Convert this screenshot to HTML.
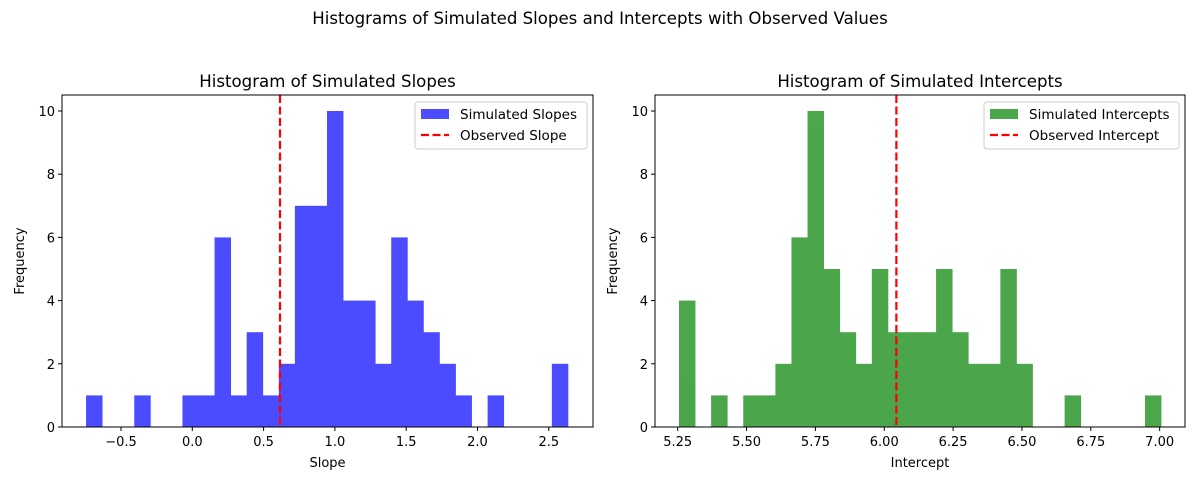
<!DOCTYPE html>
<html><head><meta charset="utf-8"><style>
body{margin:0;background:#fff}
svg{display:block;font-family:"DejaVu Sans","Liberation Sans",sans-serif}
</style></head><body>
<svg id="c" width="1200" height="500" viewBox="0 0 1200 500">
<rect width="1200" height="500" fill="#fff"/>
<text x="600" y="24" font-size="16.6" text-anchor="middle">Histograms of Simulated Slopes and Intercepts with Observed Values</text>
</svg>
<script>
const slopeCounts=[1,0,0,1,0,0,1,1,6,1,3,1,2,7,7,10,4,4,2,6,4,3,2,1,0,1,0,0,0,2];
const slopeMin=-0.745, slopeMax=2.634, observedSlope=0.615;
const slopeTicks=[-0.5,0.0,0.5,1.0,1.5,2.0,2.5];
const slopeTickLabels=["\u22120.5","0.0","0.5","1.0","1.5","2.0","2.5"];
const interceptCounts=[4,0,1,0,1,1,2,6,10,5,3,2,5,3,3,3,5,3,2,2,5,2,0,0,1,0,0,0,0,1];
const interceptMin=5.2547, interceptMax=7.005, observedIntercept=6.044;
const interceptTicks=[5.25,5.5,5.75,6.0,6.25,6.5,6.75,7.0];
const interceptTickLabels=["5.25","5.50","5.75","6.00","6.25","6.50","6.75","7.00"];
const yTicks=[0,2,4,6,8,10];

const svg=document.getElementById('c');
const NS='http://www.w3.org/2000/svg';
function el(tag,attrs,parent,text){const e=document.createElementNS(NS,tag);for(const k in attrs)e.setAttribute(k,attrs[k]);if(text!==undefined)e.textContent=text;(parent||svg).appendChild(e);return e;}

function panel(o){
  const g=el('g',{});
  
  
  const L=o.left,R=o.right,T=95,B=427;
  const xs=v=>o.x0px+(v-o.x0val)*o.pxPer;
  const ys=v=>B-v*31.6;
  const w=(o.max-o.min)/o.counts.length;
  const bars=el('g',{opacity:0.7},g);
  
  
  o.counts.forEach((c,i)=>{
    if(c<=0)return;
    const x1=xs(o.min+i*w),x2=xs(o.min+(i+1)*w);
    const r=el('rect',{x:x1,y:ys(c),width:x2-x1+0.4,height:B-ys(c),fill:o.color},bars);
    
    
  });
  const ln=el('line',{x1:xs(o.obs),x2:xs(o.obs),y1:T,y2:B,stroke:'#f00','stroke-width':2.2,'stroke-dasharray':'8,3.5'},g);
  
  
  el('rect',{x:L,y:T,width:R-L,height:B-T,fill:'none',stroke:'#000','stroke-width':1},g);
  o.ticks.forEach((t,i)=>{
    const x=xs(t);
    el('line',{x1:x,x2:x,y1:B,y2:B+4,stroke:'#000'},g);
    const tx=el('text',{x:x,y:B+19,'font-size':13,'text-anchor':'middle'},g,o.tickLabels[i]);
    
    
  });
  yTicks.forEach(t=>{
    const y=ys(t);
    el('line',{x1:L-4,x2:L,y1:y,y2:y,stroke:'#000'},g);
    const tx=el('text',{x:L-7,y:y+5,'font-size':13,'text-anchor':'end'},g,String(t));
    
    
  });
  const xt=el('text',{x:(L+R)/2,y:467,'font-size':13,'text-anchor':'middle'},g,o.xlabel);
  
  
  const yt=el('text',{x:0,y:0,'font-size':13,'text-anchor':'middle',transform:`translate(${L-38},${(T+B)/2}) rotate(-90)`},g,'Frequency');
  
  
  const tt=el('text',{x:(L+R)/2,y:87,'font-size':16.6,'text-anchor':'middle'},g,o.title);
  
  
  const lg=el('g',{},g);
  
  
  const lx=o.legX;
  el('rect',{x:lx,y:102,width:R-6-lx,height:47,rx:3,fill:'#fff','fill-opacity':0.8,stroke:'#ccc'},lg);
  el('rect',{x:lx+6,y:109,width:28,height:10,fill:o.color,'fill-opacity':0.7},lg);
  el('text',{x:lx+45,y:119,'font-size':13.5},lg,o.leg1);
  el('line',{x1:lx+6,x2:lx+34,y1:135,y2:135,stroke:'#f00','stroke-width':2.2,'stroke-dasharray':'8,3.5'},lg);
  el('text',{x:lx+45,y:140,'font-size':13.5},lg,o.leg2);
}
panel({name:'slopes-panel',left:62,right:593,x0px:192.3,x0val:0,pxPer:142.6,counts:slopeCounts,min:slopeMin,max:slopeMax,obs:observedSlope,color:'#0000ff',ticks:slopeTicks,tickLabels:slopeTickLabels,xlabel:'Slope',title:'Histogram of Simulated Slopes',legX:415,leg1:'Simulated Slopes',leg2:'Observed Slope'});
panel({name:'intercepts-panel',left:655,right:1185,x0px:677.7,x0val:5.25,pxPer:275.4,counts:interceptCounts,min:interceptMin,max:interceptMax,obs:observedIntercept,color:'#008000',ticks:interceptTicks,tickLabels:interceptTickLabels,xlabel:'Intercept',title:'Histogram of Simulated Intercepts',legX:984,leg1:'Simulated Intercepts',leg2:'Observed Intercept'});
</script>
</body></html>
